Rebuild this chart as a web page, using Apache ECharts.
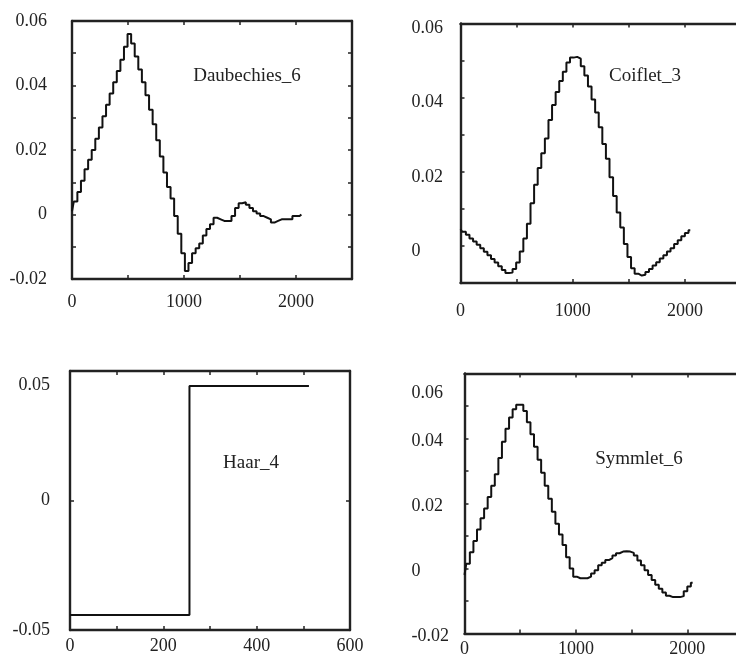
<!DOCTYPE html>
<html>
<head>
<meta charset="utf-8">
<script src="https://cdn.jsdelivr.net/npm/echarts/dist/echarts.min.js"></script>
<style>
html, body { margin: 0; padding: 0; background: #fff; }
#main { width: 736px; height: 656px; }
</style>
</head>
<body>
<div id="main"></div>
<script>
// sample positions of the stepped wavelets (2048 points, drawn in blocks of 32)
var sampleX = [0, 32, 64, 96, 128, 160, 192, 224, 256, 288, 320, 352, 384, 416, 448, 480, 512,
    544, 576, 608, 640, 672, 704, 736, 768, 800, 832, 864, 896, 928, 960, 992, 1024,
    1056, 1088, 1120, 1152, 1184, 1216, 1248, 1280, 1312, 1344, 1376, 1408, 1440, 1472, 1504, 1536,
    1568, 1600, 1632, 1664, 1696, 1728, 1760, 1792, 1824, 1856, 1888, 1920, 1952, 1984, 2016, 2048];

// values, in units of 0.001
var daub6 = [1, 4, 7, 10.5, 14, 17, 20, 23.5, 27, 30.5, 34, 37.5, 41, 44.5, 48, 52, 56,
    53, 49, 45, 41, 37, 32.5, 28, 23, 18, 13, 8.5, 5, -0.5, -6, -12, -17.5,
    -15, -12, -10.5, -9, -6.5, -4.5, -3, -1, -1.5, -2, -2, -2, -0.5, 2, 3.5, 3.8,
    3, 2, 1, 0.3, -0.5, -1, -1.5, -2.5, -2, -1.5, -1.5, -1.5, -1.5, -0.5, -0.5, 0];

var coif3 = [4.5, 3.8, 3, 2, 1.2, 0.3, -0.6, -1.6, -2.5, -3.5, -4.5, -5.5, -6.5, -7.3, -7.2, -6.2, -4.5,
    -1.5, 2, 6, 11.5, 16.5, 21, 25, 29, 34, 38, 41.5, 44.5, 47, 49.5, 50.8, 51,
    50.5, 48.5, 46, 43, 39.5, 36, 32, 27.5, 23.5, 18.5, 13.5, 9, 5, 0.5, -3, -6,
    -7.5, -8, -7.8, -7, -6.2, -5.3, -4.4, -3.4, -2.5, -1.5, -0.6, 0.5, 1.5, 2.6, 3.5, 4.2];

var symm6 = [-2, 1.5, 5, 8.5, 12, 15.5, 18.5, 22, 25.5, 29, 34, 39, 43, 46.5, 49, 50.4, 50.4,
    48.5, 45, 41.3, 37.5, 33.5, 29.5, 25.5, 21.5, 17.5, 13.8, 10.5, 7.2, 3.5, 0, -2.5, -3,
    -3, -3, -2.5, -1.5, -0.5, 1, 1.8, 2.6, 3.2, 4, 4.7, 5.2, 5.3, 5.2, 4.8, 4,
    2.5, 1, -0.5, -2, -3.5, -5, -6.2, -7.4, -8.4, -8.8, -8.8, -8.8, -8.5, -7, -5.5, -4.4];

var haarX = [0, 256, 512];
var haarY = [-0.0442, 0.0442, 0.0442];

// tick labels
var xLabelsLong = ['0', '1000', '2000'];
var xLabelsHaar = ['0', '200', '400', '600'];
var yLabels8 = ['-0.02', '0', '0.02', '0.04', '0.06'];
var yLabels7 = ['0', '0.02', '0.04', '0.06'];
var yLabelsHaar = ['-0.05', '0', '0.05'];

var names = ['Daubechies_6', 'Coiflet_3', 'Haar_4', 'Symmlet_6'];

function pairs(xs, ys, scale) {
    var out = [];
    for (var i = 0; i < xs.length; i++) out.push([xs[i], ys[i] * scale]);
    return out;
}

var font = '"Liberation Serif", "DejaVu Serif", serif';
var ink = '#222';

var panels = [
    { grid: { left: 72, top: 21, width: 280, height: 258 }, xMax: 2500, xStep: 500, yMin: -0.02, yMax: 0.06, yStep: 0.01,
      xLab: xLabelsLong, yLab: yLabels8, yAlign: 'right', yMargin: 25, xMargin: 14, yShift: 0, topShift: 0,
      data: pairs(sampleX, daub6, 0.001), step: 'middle', tx: 247, ty: 76 },
    { grid: { left: 460.5, top: 23.5, width: 280.5, height: 259.5 }, xMax: 2500, xStep: 500, yMin: -0.01, yMax: 0.06, yStep: 0.01,
      xLab: xLabelsLong, yLab: yLabels7, yAlign: 'left', yMargin: 49, xMargin: 19, yShift: 5, topShift: 0,
      data: pairs(sampleX, coif3, 0.001), step: 'middle', tx: 645, ty: 76 },
    { grid: { left: 70, top: 371, width: 280, height: 259 }, xMax: 600, xStep: 100, yMin: -0.05, yMax: 0.05, yStep: 0.05,
      xLab: xLabelsHaar, yLab: yLabelsHaar, yAlign: 'right', yMargin: 20, xMargin: 7, yShift: 0, topShift: 14,
      data: pairs(haarX, haarY, 1), step: 'end', tx: 251, ty: 463 },
    { grid: { left: 464.5, top: 373.5, width: 278.5, height: 260 }, xMax: 2500, xStep: 500, yMin: -0.02, yMax: 0.06, yStep: 0.01,
      xLab: xLabelsLong, yLab: yLabels8, yAlign: 'left', yMargin: 53, xMargin: 7, yShift: 3, topShift: 17,
      data: pairs(sampleX, symm6, 0.001), step: 'middle', tx: 639, ty: 459 }
];

function pick(list, lowTop) {
    return function (v) {
        var s = String(+(+v).toFixed(4));
        if (list.indexOf(s) < 0) return '';
        if (lowTop && s === list[list.length - 1]) return '{low|' + s + '}';
        return '{std|' + s + '}';
    };
}

var grids = [], xAxes = [], yAxes = [], series = [], texts = [];
panels.forEach(function (p, i) {
    var g = p.grid;
    grids.push({ left: g.left, top: g.top, width: g.width, height: g.height, containLabel: false, outerBoundsMode: 'none' });
    var line = { show: true, onZero: false, lineStyle: { color: ink, width: 2.4 } };
    var tick = { show: true, inside: true, length: 4, lineStyle: { color: ink, width: 1.5 } };
    var lab = { fontFamily: font, fontSize: 18, color: ink };
    var txt = function (shift) {
        return { fontFamily: font, fontSize: 18, color: ink, padding: [shift * 2, 0, 0, 0] };
    };
    [false, true].forEach(function (isTop) {
        xAxes.push({
            type: 'value', gridIndex: i, position: isTop ? 'top' : 'bottom',
            min: 0, max: p.xMax, interval: p.xStep,
            axisLine: line, axisTick: tick, splitLine: { show: false },
            axisLabel: isTop ? { show: false } : Object.assign({
                margin: p.xMargin,
                formatter: function (v) { var s = String(v); return p.xLab.indexOf(s) >= 0 ? s : ''; }
            }, lab)
        });
        yAxes.push({
            type: 'value', gridIndex: i, position: isTop ? 'right' : 'left',
            min: p.yMin, max: p.yMax, interval: p.yStep,
            axisLine: line, axisTick: tick, splitLine: { show: false },
            axisLabel: isTop ? { show: false } : Object.assign({
                margin: p.yMargin, align: p.yAlign, formatter: pick(p.yLab, p.topShift > 0),
                rich: { std: txt(p.yShift), low: txt(p.topShift + p.yShift) }
            }, lab)
        });
    });
    series.push({
        type: 'line', xAxisIndex: i * 2, yAxisIndex: i * 2, data: p.data, step: p.step,
        showSymbol: false, symbol: 'none', lineStyle: { color: '#111', width: 2 }
    });
    texts.push({
        type: 'text', x: p.tx, y: p.ty,
        style: { text: names[i], font: '19px ' + font, fill: ink,
                 align: 'center', verticalAlign: 'middle', textAlign: 'center', textVerticalAlign: 'middle' }
    });
});

var chart = echarts.init(document.getElementById('main'));
chart.setOption({
    backgroundColor: '#fff',
    animation: false,
    grid: grids,
    xAxis: xAxes,
    yAxis: yAxes,
    series: series,
    graphic: texts
});
</script>
</body>
</html>
